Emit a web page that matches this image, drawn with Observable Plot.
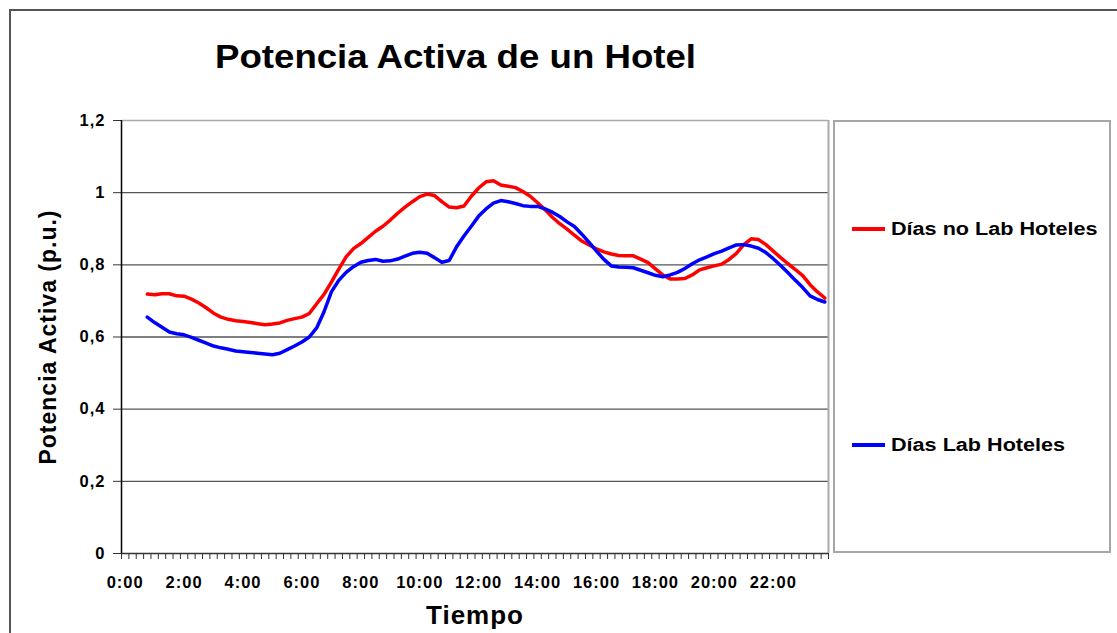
<!DOCTYPE html>
<html>
<head>
<meta charset="utf-8">
<script src="https://cdn.jsdelivr.net/npm/d3@7"></script>
<script src="https://cdn.jsdelivr.net/npm/@observablehq/plot@0.6"></script>
<style>
  body { margin: 0; background: #fff; }
  #wrap { position: relative; width: 1117px; height: 633px; overflow: hidden;
          font-family: "Liberation Sans", Arial, sans-serif; font-weight: bold; color: #000; }
  #frame { position: absolute; left: 9px; top: 9px; width: 1200px; height: 700px;
           border-top: 2px solid #555; border-left: 2px solid #555; }
  #chart { position: absolute; left: 0; top: 0; }
  #title { position: absolute; left: 215px; top: 38px; font-size: 33px; white-space: nowrap;
           transform: scaleX(1.11); transform-origin: left top; }
  #legend { position: absolute; left: 833px; top: 120px; width: 274px; height: 429px;
            border: 2px solid #a6a6a6; background: #fff; }
  .entry { position: absolute; left: 17px; height: 20px; display: flex; align-items: center; }
  .swatch { width: 33px; height: 4px; margin-right: 6px; }
  .entry span { font-size: 18px; white-space: nowrap; transform: scaleX(1.2); transform-origin: left center; }
</style>
</head>
<body>
<div id="wrap">
  <div id="frame"></div>
  <div id="chart"></div>
  <div id="title"></div>
  <div id="legend"></div>
</div>
<script>
// Quarter-hour timestamps of the daily load profile
const times = [
  "0:45","1:00","1:15","1:30","1:45","2:00","2:15","2:30","2:45","3:00","3:15","3:30","3:45",
  "4:00","4:15","4:30","4:45","5:00","5:15","5:30","5:45","6:00","6:15","6:30","6:45",
  "7:00","7:15","7:30","7:45","8:00","8:15","8:30","8:45","9:00","9:15","9:30","9:45",
  "10:00","10:15","10:30","10:45","11:00","11:15","11:30","11:45","12:00","12:15","12:30","12:45",
  "13:00","13:15","13:30","13:45","14:00","14:15","14:30","14:45","15:00","15:15","15:30","15:45",
  "16:00","16:15","16:30","16:45","17:00","17:15","17:30","17:45","18:00","18:15","18:30","18:45",
  "19:00","19:15","19:30","19:45","20:00","20:15","20:30","20:45","21:00","21:15","21:30","21:45",
  "22:00","22:15","22:30","22:45","23:00","23:15","23:30","23:45"
];

// Active power (p.u.) on non-working days
const noLab = [
  0.719,0.717,0.720,0.720,0.714,0.713,0.705,0.694,0.681,0.666,0.655,0.649,0.645,
  0.643,0.640,0.637,0.634,0.636,0.639,0.646,0.651,0.655,0.665,0.692,0.718,
  0.752,0.788,0.822,0.845,0.859,0.876,0.893,0.907,0.924,0.943,0.960,0.975,
  0.989,0.996,0.992,0.975,0.960,0.958,0.963,0.990,1.013,1.030,1.033,1.021,
  1.018,1.014,1.003,0.990,0.972,0.953,0.932,0.914,0.899,0.882,0.866,0.855,
  0.844,0.836,0.830,0.826,0.825,0.825,0.816,0.806,0.789,0.772,0.761,0.761,
  0.762,0.772,0.786,0.792,0.797,0.802,0.815,0.832,0.856,0.872,0.870,0.856,
  0.838,0.820,0.803,0.787,0.770,0.745,0.725,0.708
];

// Active power (p.u.) on working days
const lab = [
  0.655,0.640,0.627,0.614,0.609,0.606,0.599,0.591,0.583,0.575,0.570,0.566,0.561,
  0.559,0.557,0.555,0.553,0.551,0.555,0.565,0.575,0.586,0.600,0.625,0.670,
  0.725,0.757,0.779,0.795,0.807,0.812,0.815,0.810,0.811,0.816,0.824,0.832,
  0.835,0.832,0.820,0.807,0.812,0.850,0.880,0.907,0.935,0.955,0.971,0.978,
  0.975,0.970,0.964,0.962,0.962,0.955,0.946,0.934,0.919,0.906,0.885,0.862,
  0.838,0.815,0.797,0.794,0.793,0.792,0.785,0.778,0.771,0.767,0.772,0.779,
  0.790,0.803,0.814,0.822,0.831,0.838,0.847,0.855,0.856,0.852,0.846,0.834,
  0.817,0.798,0.778,0.757,0.737,0.714,0.704,0.697
];

const seriesNames = ["Días no Lab Hoteles", "Días Lab Hoteles"];
const seriesColors = ["#ff0000", "#0000ff"];

const yTicks = [0, 0.2, 0.4, 0.6, 0.8, 1, 1.2];
const yTickLabels = ["0", "0,2", "0,4", "0,6", "0,8", "1", "1,2"];
const xTickHours = [0, 2, 4, 6, 8, 10, 12, 14, 16, 18, 20, 22];
const xTickLabels = ["0:00","2:00","4:00","6:00","8:00","10:00","12:00","14:00","16:00","18:00","20:00","22:00"];

const titleText = "Potencia Activa de un Hotel";
const yLabel = "Potencia Activa (p.u.)";
const xLabel = "Tiempo";

// Category axis: each quarter-hour slot is centred on its time
const xDomain = [-0.125, 23.875];
const slotEdges = d3.range(0, 97).map(k => xDomain[0] + k * 0.25);

const toHours = t => { const [h, m] = t.split(":"); return +h + +m / 60; };
const rows = [];
[noLab, lab].forEach((vals, s) => {
  times.forEach((t, i) => rows.push({ hour: toHours(t), value: vals[i], series: seriesNames[s] }));
});

const yFmt = new Map(yTicks.map((d, i) => [d, yTickLabels[i]]));
const xFmt = new Map(xTickHours.map((d, i) => [d, xTickLabels[i]]));

const chart = Plot.plot({
  width: 1117,
  height: 633,
  marginLeft: 121,
  marginRight: 289,
  marginTop: 120,
  marginBottom: 80,
  style: {
    fontFamily: '"Liberation Sans", Arial, sans-serif',
    fontWeight: "bold",
    fontSize: "16.5px",
    letterSpacing: "1px",
    color: "#000",
    background: "transparent",
    overflow: "visible"
  },
  x: { domain: xDomain },
  y: { domain: [0, 1.2] },
  color: { domain: seriesNames, range: seriesColors },
  marks: [
    Plot.gridY(yTicks.filter(d => d > 0 && d < 1.2), { stroke: "#555", strokeOpacity: 1, strokeWidth: 1.3 }),
    Plot.ruleY([1.2], { stroke: "#aaa", strokeWidth: 1.5 }),
    Plot.ruleX([xDomain[1]], { stroke: "#aaa", strokeWidth: 2 }),
    Plot.axisY({ ticks: yTicks, tickFormat: d => yFmt.get(d), tickSize: 8, tickPadding: 8, label: null, stroke: "#333" }),
    Plot.axisX({ ticks: slotEdges, tickSize: 6, tickFormat: () => "", label: null, stroke: "#333" }),
    Plot.axisX({ ticks: xTickHours, tickSize: 0, tickPadding: 23, tickFormat: d => xFmt.get(d), label: null }),
    Plot.ruleY([0], { stroke: "#333", strokeWidth: 1.3 }),
    Plot.ruleX([xDomain[0]], { stroke: "#000", strokeWidth: 1.5 }),
    Plot.line(rows, { x: "hour", y: "value", z: "series", stroke: "series", strokeWidth: 3.5 }),
    Plot.text([yLabel], { text: d => d, frameAnchor: "left", textAnchor: "middle", lineAnchor: "middle",
                          dx: -73, rotate: -90, fontSize: 23 }),
    Plot.text([xLabel], { text: d => d, frameAnchor: "bottom", textAnchor: "middle", lineAnchor: "middle",
                          dy: 62, fontSize: 26 })
  ]
});
document.getElementById("chart").appendChild(chart);

document.getElementById("title").textContent = titleText;

// Legend box with a swatch per series
const legend = document.getElementById("legend");
const entryTops = [97, 313];
seriesNames.forEach((name, i) => {
  const e = document.createElement("div");
  e.className = "entry";
  e.style.top = entryTops[i] + "px";
  const sw = document.createElement("div");
  sw.className = "swatch";
  sw.style.background = seriesColors[i];
  const label = document.createElement("span");
  label.textContent = name;
  e.appendChild(sw);
  e.appendChild(label);
  legend.appendChild(e);
});
</script>
</body>
</html>
